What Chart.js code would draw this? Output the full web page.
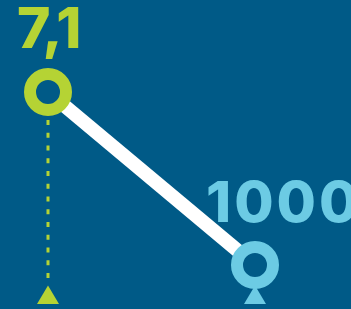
<!DOCTYPE html>
<html>
<head>
<meta charset="utf-8">
<script src="https://cdn.jsdelivr.net/npm/chart.js@4.4.0/dist/chart.umd.min.js"></script>
<style>
  html, body { margin: 0; padding: 0; background: #005a87; overflow: hidden; }
  canvas { display: block; }
</style>
</head>
<body>
<canvas id="slopeChart" width="351" height="309"></canvas>
<script>
const steps = [0, 1];
const values = [7.1, 1000];
const valueLabels = ['7,1', '1000'];
const pointColors = ['#b5d334', '#6ccbe4'];

const bg = '#005a87';

// value labels, dotted drop line and the little triangles on the baseline
const decorations = {
    id: 'decorations',
    beforeDatasetsDraw(chart) {
        const c = chart.ctx;
        const pts = chart.getDatasetMeta(0).data;
        const base = chart.chartArea.bottom;
        c.save();
        c.strokeStyle = pointColors[0];
        c.lineWidth = 3;
        c.setLineDash([5, 7.75]);
        c.beginPath();
        c.moveTo(pts[0].x, pts[0].y + 28);
        c.lineTo(pts[0].x, base - 26);
        c.stroke();
        c.setLineDash([]);
        pts.forEach((p, i) => {
            c.fillStyle = pointColors[i];
            c.beginPath();
            c.moveTo(p.x, base - 18.5);
            c.lineTo(p.x + 11, base);
            c.lineTo(p.x - 11, base);
            c.closePath();
            c.fill();
        });
        c.restore();
    },
    afterDatasetsDraw(chart) {
        const c = chart.ctx;
        const pts = chart.getDatasetMeta(0).data;
        const offsets = [[-31, -44], [-49, -43]];
        const spacing = ['-1px', '3px'];
        c.save();
        c.font = "800 57px Inter";
        c.textAlign = 'left';
        c.textBaseline = 'alphabetic';
        pts.forEach((p, i) => {
            c.letterSpacing = spacing[i];
            c.fillStyle = pointColors[i];
            c.fillText(valueLabels[i], p.x + offsets[i][0], p.y + offsets[i][1]);
        });
        c.restore();
    }
};

new Chart(document.getElementById('slopeChart'), {
    type: 'line',
    data: {
        datasets: [{
            data: steps.map((s, i) => ({ x: s, y: values[i] })),
            borderColor: '#ffffff',
            borderWidth: 14,
            pointRadius: 18,
            pointHoverRadius: 18,
            pointBorderWidth: 12,
            pointBackgroundColor: bg,
            pointBorderColor: pointColors,
            clip: false,
            tension: 0
        }]
    },
    options: {
        responsive: false,
        animation: false,
        layout: { autoPadding: false, padding: { left: 48, right: 96, top: 92, bottom: 5 } },
        plugins: { legend: { display: false }, tooltip: { enabled: false } },
        scales: {
            x: { type: 'linear', min: 0, max: 1, display: false },
            y: { type: 'logarithmic', reverse: true, min: 7.1, max: 3050, display: false }
        }
    },
    plugins: [decorations]
});
</script>
</body>
</html>
